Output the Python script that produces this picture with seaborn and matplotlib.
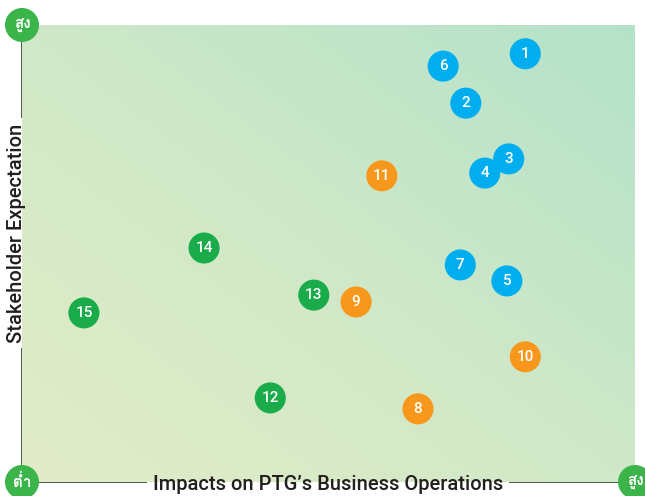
import numpy as np
import pandas as pd
import matplotlib
matplotlib.use('Agg')
import matplotlib.pyplot as plt
import seaborn as sns
from matplotlib import font_manager
from matplotlib.ft2font import FT2Font
from matplotlib.colors import LinearSegmentedColormap

# Materiality issues: id, impact on business (x), stakeholder expectation (y)
issue_ids = [1, 2, 3, 4, 5, 6, 7, 8, 9, 10, 11, 12, 13, 14, 15]
impact = [8.21, 7.24, 7.94, 7.55, 7.91, 6.87, 7.15, 6.46, 5.45, 8.21, 5.87, 4.05, 4.76, 2.97, 1.01]
expectation = [9.37, 8.29, 7.07, 6.76, 4.40, 9.10, 4.75, 1.60, 3.94, 2.74, 6.70, 1.84, 4.09, 5.12, 3.70]
group = ['blue'] * 7 + ['orange'] * 4 + ['green'] * 4

palette = {'blue': '#00aeef', 'orange': '#f7981d', 'green': '#1aab4b'}

df = pd.DataFrame({'id': issue_ids, 'impact': impact,
                   'expectation': expectation, 'group': group})

sns.set_theme(style='white')
plt.rcParams['font.family'] = ['Roboto', 'Liberation Sans', 'DejaVu Sans']


def thai_family():
    # find any installed font that has Thai glyphs
    for f in font_manager.fontManager.ttflist:
        try:
            if FT2Font(f.fname).get_char_index(ord('ส')):
                return f.name
        except Exception:
            pass
    return 'DejaVu Sans'


thai = thai_family()

fig = plt.figure(figsize=(6.45, 4.96), dpi=100)
ax = fig.add_axes([22 / 645, 14 / 496, 613 / 645, 457 / 496])

# diagonal gradient background
gx, gy = np.meshgrid(np.linspace(0, 1, 200), np.linspace(0, 1, 200))
grad = (gx + gy) / 2
cmap = LinearSegmentedColormap.from_list('bg', ['#e3ecc7', '#cfe8c8', '#b4e2ca'])
ax.imshow(grad, cmap=cmap, extent=[0, 10, 0, 10], origin='lower',
          aspect='auto', zorder=1)

sns.scatterplot(data=df, x='impact', y='expectation', hue='group',
                palette=palette, s=500, edgecolor='none', legend=False,
                ax=ax, zorder=3)

for _, r in df.iterrows():
    ax.text(r['impact'], r['expectation'], str(r['id']), color='white',
            fontsize=11, fontweight='medium', ha='center', va='center', zorder=4)

ax.set_xlim(0, 10)
ax.set_ylim(0, 10)
ax.set_xticks([])
ax.set_yticks([])
ax.set_xlabel('')
ax.set_ylabel('')
for s in ['top', 'right']:
    ax.spines[s].set_visible(False)
for s in ['left', 'bottom']:
    ax.spines[s].set_color('#4f5a4c')
    ax.spines[s].set_linewidth(1.4)
    ax.spines[s].set_zorder(0.5)

# axis titles: white box sits under the gradient but over the axis line
xlab = "Impacts on PTG’s Business Operations"
ylab = 'Stakeholder Expectation'
lab_kw = dict(transform=ax.transAxes, ha='center', va='center',
              fontsize=14.5, fontweight='medium')
for txt, x, y, rot in [(xlab, 0.499, -0.006, 0), (ylab, -0.0085, 0.545, 90)]:
    ax.text(x, y, txt, rotation=rot, color='white', zorder=0.7,
            bbox=dict(facecolor='white', edgecolor='none', pad=4), **lab_kw)
    ax.text(x, y, txt, rotation=rot, color='#231f20', zorder=5, **lab_kw)

# corner markers (high / low)
corners_x = [0, 0, 10]
corners_y = [10, 0, 0]
corners_lbl = ['สูง', 'ต่ำ', 'สูง']
ax.scatter(corners_x, corners_y, s=600, color='#3bb54a', edgecolor='none',
           clip_on=False, zorder=6)
for cx, cy, lbl in zip(corners_x, corners_y, corners_lbl):
    ax.text(cx, cy, lbl, color='white', fontsize=11, fontweight='bold',
            ha='center', va='center', family=[thai, 'DejaVu Sans'],
            zorder=7, clip_on=False)

fig.savefig('out.png', dpi=100)
